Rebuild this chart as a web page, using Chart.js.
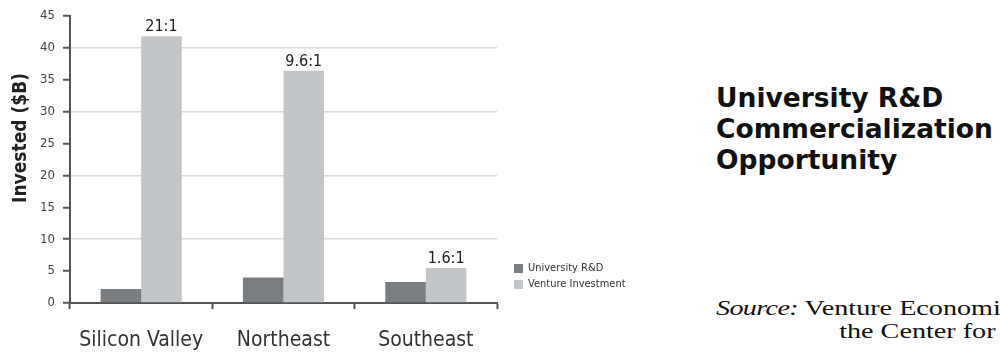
<!DOCTYPE html>
<html>
<head>
<meta charset="utf-8">
<script src="https://cdn.jsdelivr.net/npm/chart.js@4"></script>
<style>
  body { margin: 0; background: #fff; width: 1000px; height: 352px; overflow: hidden; position: relative; }
  #chart { position: absolute; left: 0; top: 0; }
  #title { position: absolute; left: 716px; top: 82px; font: bold 26.5px "DejaVu Sans", sans-serif; line-height: 31px; color: #111; white-space: nowrap; }
  #source { position: absolute; left: 716px; top: 297px; font: 21.5px "Liberation Serif", serif; line-height: 23px; color: #111; white-space: nowrap; transform: scaleX(1.31); transform-origin: 0 0; }
  #source i { font-style: italic; letter-spacing: -0.5px; }
</style>
</head>
<body>
<canvas id="chart" width="700" height="352"></canvas>
<div id="title">University R&amp;D<br>Commercialization<br>Opportunity</div>
<div id="source"><i>Source:</i> Venture Economics and<br><span style="padding-left:94px">the Center for Venture</span></div>
<script>
  // values ($B)
  let regions = ['Silicon Valley', 'Northeast', 'Southeast'];
  let universityRD = [2.2, 4.0, 3.3];
  let ventureInvestment = [41.8, 36.4, 5.5];
  let ratios = ['21:1', '9.6:1', '1.6:1'];
  let seriesNames = ['University R&D', 'Venture Investment'];
  let seriesColors = ['#7b7e80', '#c3c6c8'];

  const condensed = '"DejaVu Sans Condensed", "DejaVu Sans", sans-serif';

  // ratio text on top of the venture bars, y title and the legend
  const extras = {
    id: 'extras',
    afterDatasetsDraw(chart) {
      let ctx = chart.ctx;
      let meta = chart.getDatasetMeta(1);
      ctx.save();
      ctx.fillStyle = '#222';
      ctx.font = '16px ' + condensed;
      ctx.textAlign = 'center';
      ctx.textBaseline = 'alphabetic';
      meta.data.forEach(function(bar, i) {
        ctx.fillText(ratios[i], bar.x, bar.y - 5);
      });

      // axis title
      ctx.save();
      ctx.translate(21, 138);
      ctx.rotate(-Math.PI / 2);
      ctx.font = 'bold 19px ' + condensed;
      ctx.fillStyle = '#222';
      ctx.textAlign = 'center';
      ctx.textBaseline = 'middle';
      ctx.fillText('Invested ($B)', 0, 0);
      ctx.restore();

      // legend
      ctx.textAlign = 'left';
      ctx.textBaseline = 'middle';
      ctx.font = '11px ' + condensed;
      for (let s = 0; s < seriesNames.length; s++) {
        let y = 268 + s * 16;
        ctx.fillStyle = seriesColors[s];
        ctx.fillRect(514, y - 4, 9, 9);
        ctx.fillStyle = '#333';
        ctx.fillText(seriesNames[s], 528, y);
      }
      ctx.restore();
    }
  };

  new Chart(document.getElementById('chart'), {
    type: 'bar',
    data: {
      labels: regions,
      datasets: [
        { label: seriesNames[0], data: universityRD, backgroundColor: seriesColors[0] },
        { label: seriesNames[1], data: ventureInvestment, backgroundColor: seriesColors[1] }
      ]
    },
    options: {
      responsive: false,
      animation: false,
      devicePixelRatio: 1,
      layout: { padding: { top: 15, right: 203, left: 0, bottom: 0 } },
      plugins: { legend: { display: false }, tooltip: { enabled: false } },
      datasets: { bar: { categoryPercentage: 0.57, barPercentage: 1.0 } },
      scales: {
        x: {
          afterFit: function(scale) { scale.height = 49; },
          border: { color: '#555', width: 2 },
          grid: { drawOnChartArea: false, tickLength: 6, tickColor: '#555', tickWidth: 2 },
          ticks: { color: '#333', padding: 19, font: { size: 21, family: condensed } }
        },
        y: {
          min: 0,
          max: 45,
          afterFit: function(scale) { scale.width = 70; },
          border: { color: '#555', width: 2 },
          grid: {
            color: function(c) { return (c.tick && c.tick.value > 0 && c.tick.value % 10 === 0) ? '#d9d9d9' : 'transparent'; },
            lineWidth: 1.5,
            tickLength: 7,
            tickColor: '#555',
            tickWidth: 2
          },
          ticks: { stepSize: 5, color: '#444', padding: 8, font: { size: 13, family: condensed } }
        }
      }
    },
    plugins: [extras]
  });
</script>
</body>
</html>
